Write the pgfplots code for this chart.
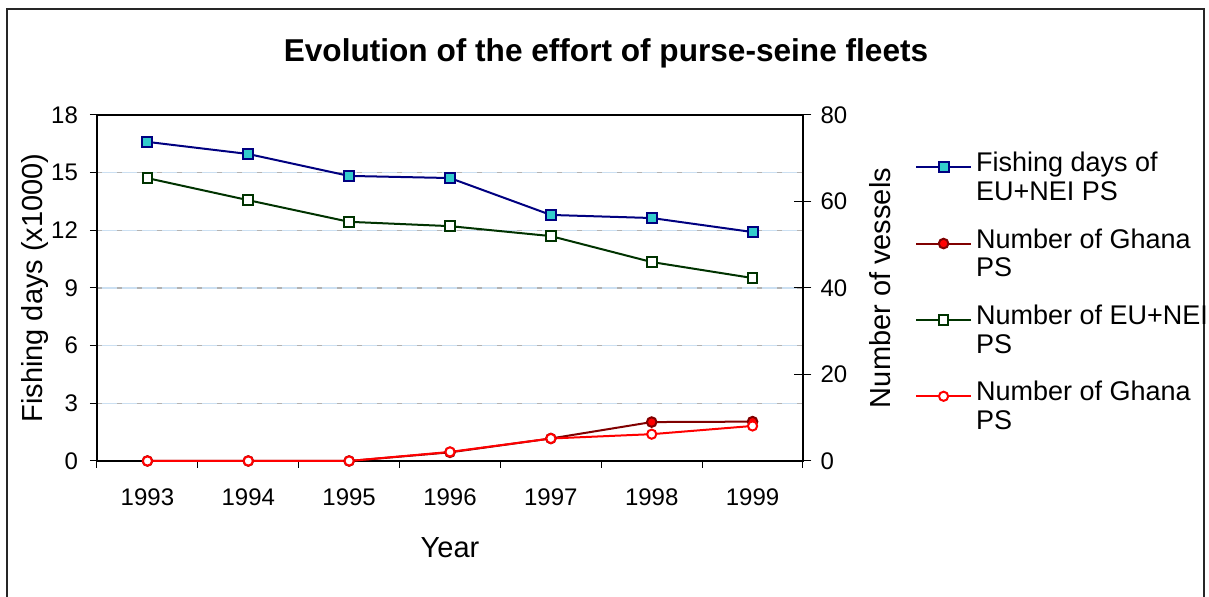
\documentclass[border=0pt]{standalone}
\usepackage{fontspec}
\setmainfont{Liberation Sans}
\usepackage{pgfplots}
\pgfplotsset{compat=1.18}
\definecolor{navyb}{RGB}{0,0,128}
\definecolor{tealf}{RGB}{51,204,204}
\definecolor{dred}{RGB}{128,0,0}
\definecolor{dgreen}{RGB}{0,51,0}
\definecolor{gridc}{RGB}{204,224,242}
\begin{document}
\begin{tikzpicture}[x=1pt,y=1pt]
\useasboundingbox (0,0) rectangle (604.5,298.5);
\draw[line width=0.6pt, black!85] (3.5,-5) -- (3.5,294) -- (602,294) -- (602,-5);
\node[anchor=base, font=\fontsize{15.8}{18}\selectfont\bfseries] at (303,267.5) {Evolution of the effort of purse-seine fleets};
\begin{axis}[
  at={(48.5pt,68pt)}, anchor=south west,
  scale only axis, width=353pt, height=173pt,
  xmin=-0.5, xmax=6.5, ymin=0, ymax=18,
  xtick={0,1,2,3,4,5,6},
  xticklabels={1993,1994,1995,1996,1997,1998,1999},
  major x tick style={draw=none},
  minor xtick={-0.5,0.5,1.5,2.5,3.5,4.5,5.5,6.5},
  ytick={0,3,6,9,12,15,18},
  xtick pos=bottom, ytick pos=left,
  tick align=outside,
  major tick length=3.5pt, minor tick length=3.5pt,
  ymajorgrids, grid style={gridc, line width=0.6pt, postaction={draw=black!30, line width=0.6pt, dash pattern=on 2.5pt off 7.5pt}},
  axis line style={line width=0.7pt},
  tick style={black, line width=0.5pt},
  ticklabel style={font=\fontsize{12}{14}\selectfont},
  yticklabel style={xshift=-2.5pt},
  xticklabel style={yshift=-7pt},
  /pgf/number format/assume math mode=true,
  ylabel={Fishing days (x1000)}, xlabel={Year},
  label style={font=\fontsize{14.5}{17}\selectfont},
  ylabel style={at={(axis description cs:-0.088,0.5)}, anchor=center},
  xlabel style={at={(axis description cs:0.5,-0.2514)}, anchor=center},
  clip=false,
]
\addplot[navyb, line width=1pt, mark=square*, mark size=2.5pt, mark options={fill=tealf, solid}]
  coordinates {(0,16.6) (1,15.97) (2,14.83) (3,14.72) (4,12.8) (5,12.64) (6,11.91)};
\end{axis}
\begin{axis}[
  at={(48.5pt,68pt)}, anchor=south west,
  scale only axis, width=353pt, height=173pt,
  xmin=-0.5, xmax=6.5, ymin=0, ymax=80,
  axis x line=none, axis y line*=right,
  ytick={0,20,40,60,80},
  tick align=center, major tick length=8.5pt,
  axis line style={line width=0.7pt},
  tick style={black, line width=0.5pt},
  ticklabel style={font=\fontsize{12}{14}\selectfont},
  yticklabel style={xshift=1pt},
  /pgf/number format/assume math mode=true,
  ylabel={Number of vessels},
  label style={font=\fontsize{14.5}{17}\selectfont},
  ylabel style={at={(axis description cs:1.109,0.5)}, anchor=center},
  clip=false,
  legend style={at={(axis description cs:1.1497,0.917)}, anchor=north west,
    draw=none, fill=none, font=\fontsize{13.5}{14.4}\selectfont,
    cells={align=left}, row sep=8.5pt, column sep=0pt,
    nodes={inner sep=2pt}},
  legend cell align=left,
  legend image code/.code={\draw[mark repeat=2,mark phase=2, yshift=5.3pt] plot coordinates {(0pt,0pt)(13.75pt,0pt)(27.5pt,0pt)};},
]
\addlegendimage{navyb, line width=1pt, mark=square*, mark size=2.5pt, mark options={fill=tealf, solid}}
\addlegendentry{Fishing days of\\EU+NEI PS}
\addplot[dred, line width=1pt, mark=*, mark size=2.4pt, mark options={fill=red, draw=dred, solid}]
  coordinates {(0,0) (1,0) (2,0) (3,2) (4,5.2) (5,9) (6,9.1)};
\addlegendentry{Number of Ghana\\PS}
\addplot[dgreen, line width=1pt, mark=square*, mark size=2.4pt, mark options={fill=white, solid}]
  coordinates {(0,65.4) (1,60.3) (2,55.3) (3,54.3) (4,52) (5,46) (6,42.3)};
\addlegendentry{Number of EU+NEI\\PS}
\addplot[red, line width=1pt, mark=*, mark size=2.3pt, mark options={fill=white, solid}]
  coordinates {(0,0) (1,0) (2,0) (3,2.1) (4,5.2) (5,6.2) (6,8.1)};
\addlegendentry{Number of Ghana\\PS}
\end{axis}
\end{tikzpicture}
\end{document}
